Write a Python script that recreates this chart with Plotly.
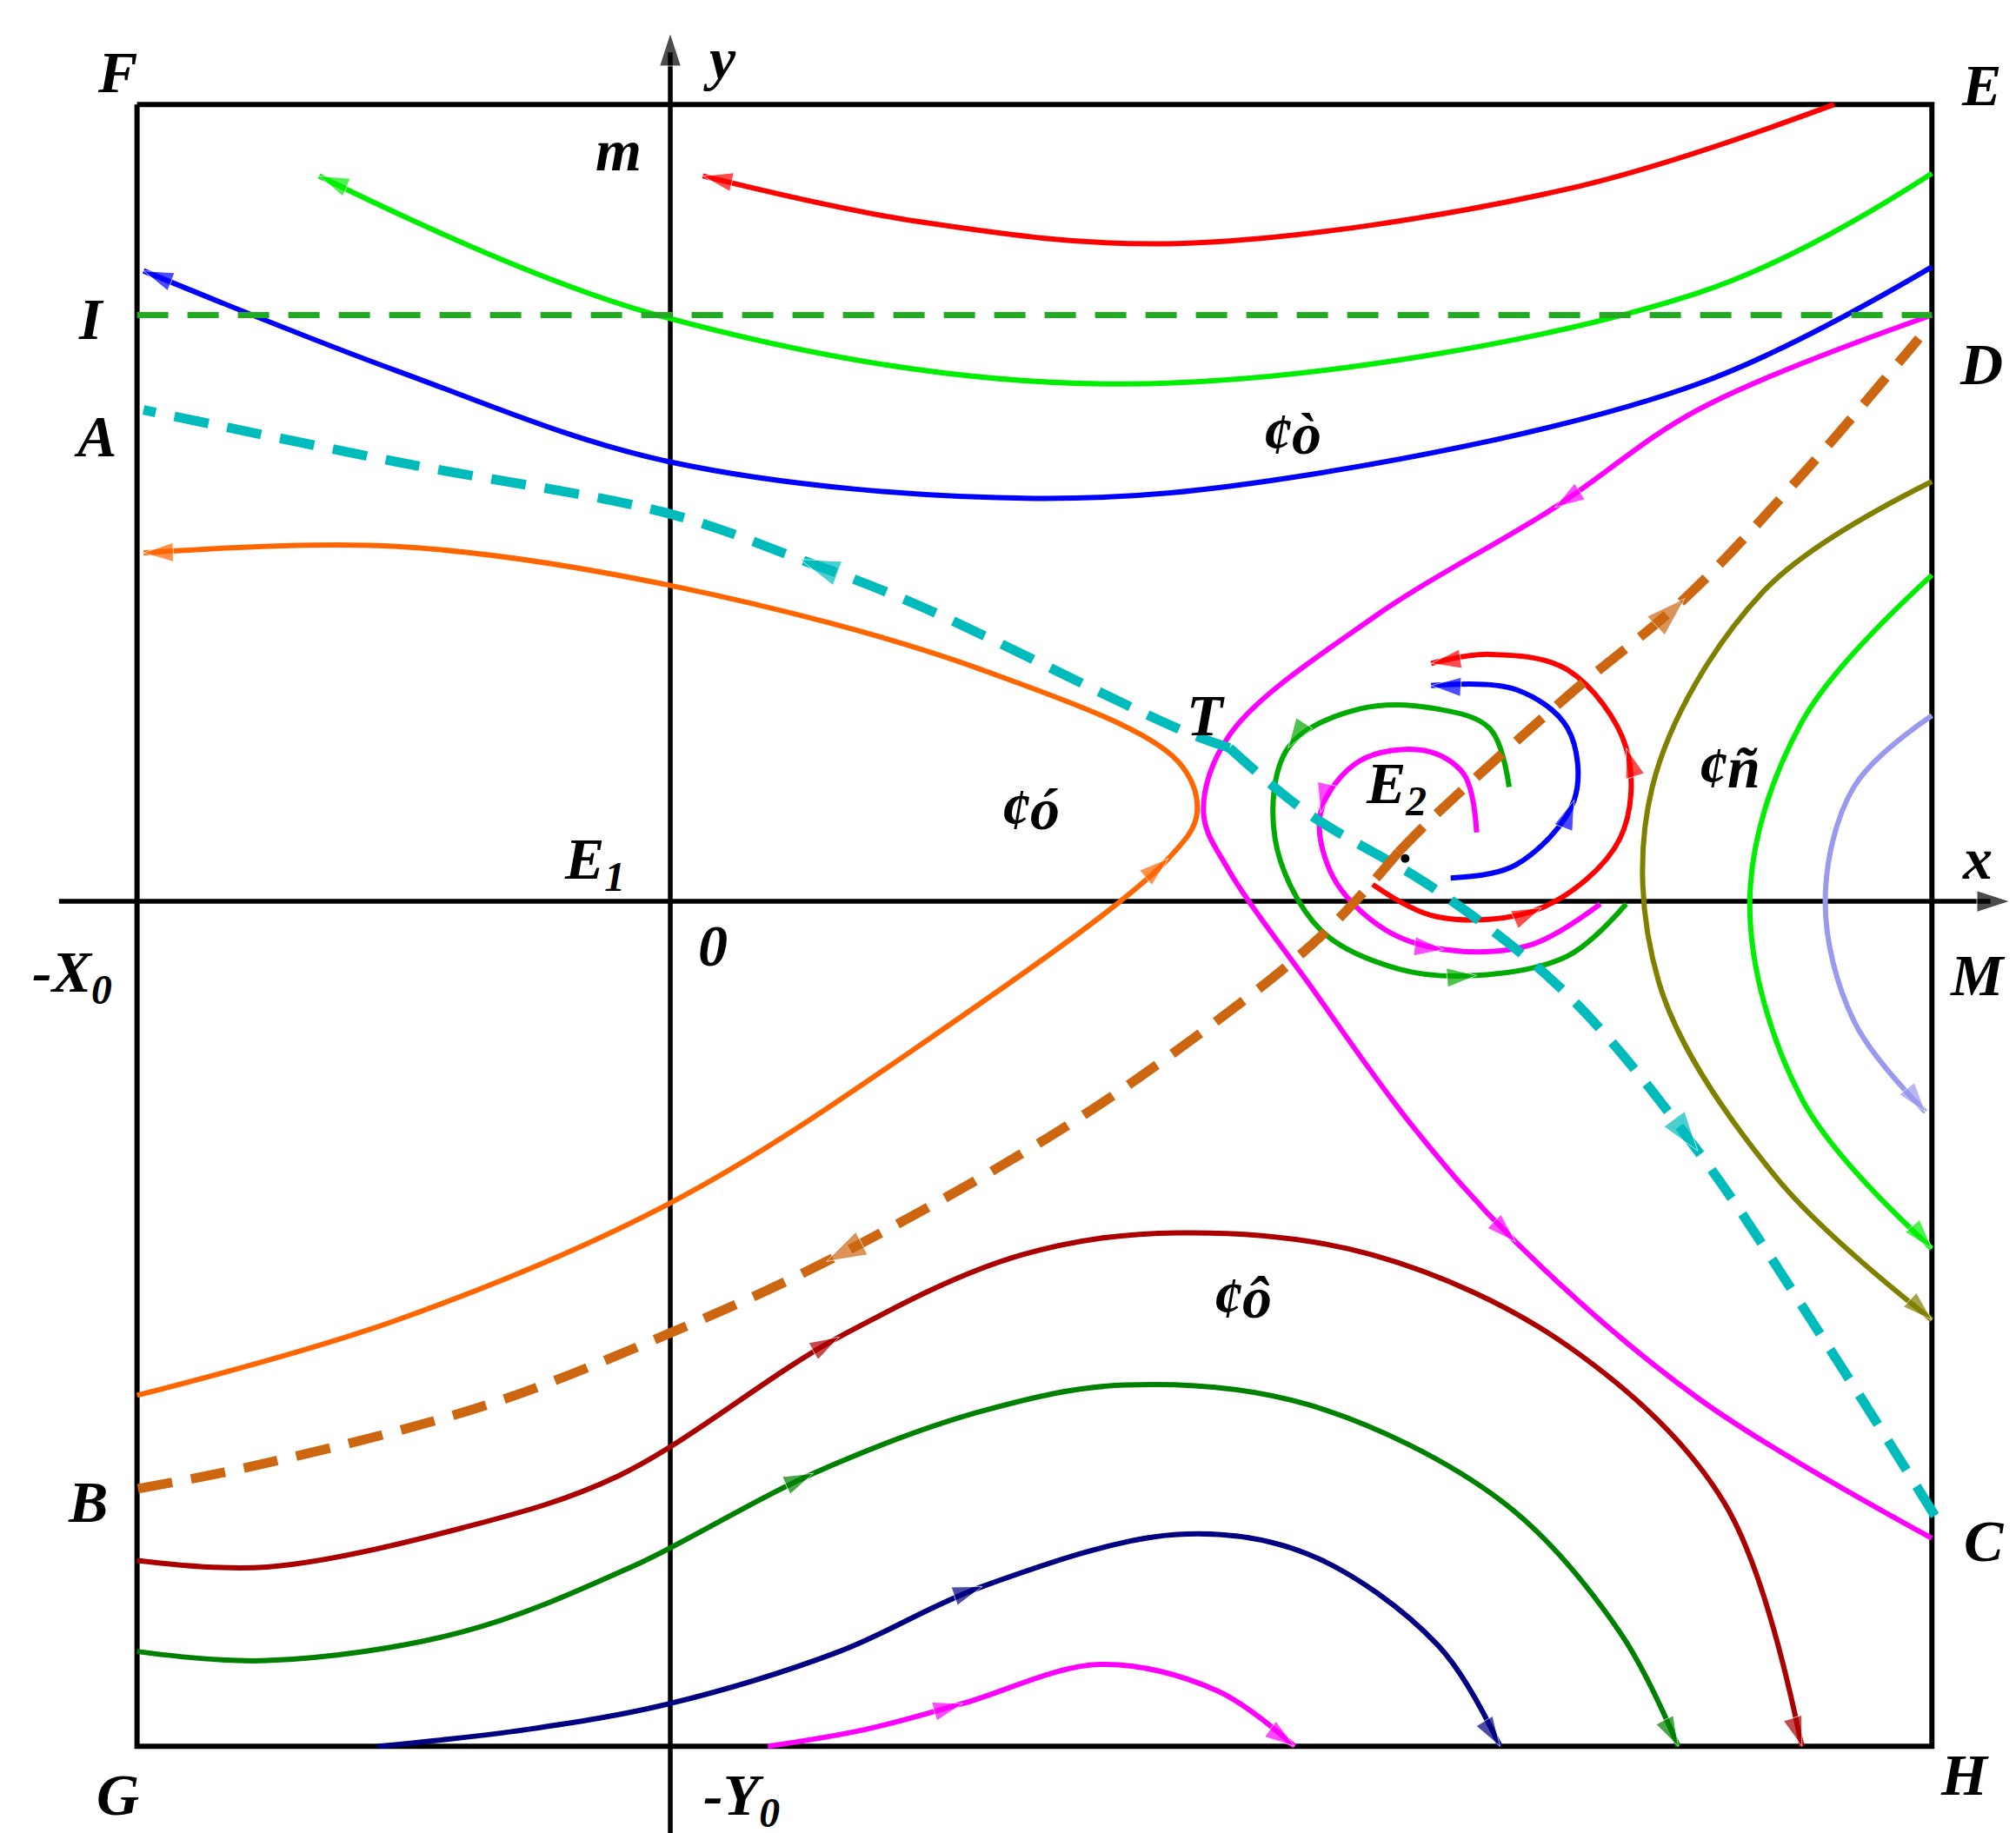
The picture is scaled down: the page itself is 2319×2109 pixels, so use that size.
import plotly.graph_objects as go

# curves in picture units (x right, y down), arrow = index of point carrying an arrowhead
box_x = [100, 1480, 1480, 100, 100]
box_y = [75, 75, 1338, 1338, 75]

curves = [
    # (x, y, colour, width, dash, arrow indices)
    ([1405, 1200, 900, 700, 535], [75, 140, 182, 165, 130], 'red', 6, 'solid', [4]),
    ([1480, 1300, 860, 500, 240], [128, 220, 290, 237, 130], '#00ee00', 6, 'solid', [4]),
    ([1480, 1300, 1000, 790, 510, 300, 105], [200, 290, 360, 378, 350, 280, 203], 'blue', 6, 'solid', [6]),
    ([100, 300, 510, 700, 893, 915, 900, 750, 510, 300, 105],
     [1068, 1010, 920, 800, 655, 620, 580, 510, 445, 415, 420], '#ff6600', 6, 'solid', [4, 10]),
    ([1480, 1300, 1190, 1050, 940, 920, 940, 1000, 1080, 1160, 1300, 1480],
     [237, 310, 385, 470, 560, 620, 665, 750, 860, 950, 1070, 1178], 'magenta', 6, 'solid', [2, 9]),
    ([1480, 1350, 1265, 1270, 1360, 1480], [365, 450, 600, 750, 900, 1010], '#808000', 6, 'solid', [5]),
    ([1480, 1380, 1340, 1380, 1480], [437, 550, 688, 840, 955], '#00ee00', 6, 'solid', [4]),
    ([1480, 1420, 1398, 1420, 1475], [545, 600, 688, 780, 850], '#9999ee', 6, 'solid', [4]),
    ([100, 200, 350, 470, 640, 780, 900, 1050, 1200, 1320, 1380],
     [1195, 1200, 1170, 1130, 1023, 960, 943, 960, 1030, 1150, 1338], '#aa0000', 6, 'solid', [4, 10]),
    ([100, 200, 350, 480, 620, 750, 860, 1000, 1150, 1240, 1285],
     [1265, 1272, 1250, 1200, 1128, 1080, 1060, 1075, 1150, 1250, 1338], '#008000', 6, 'solid', [4, 10]),
    ([285, 400, 510, 640, 750, 900, 1000, 1100, 1148],
     [1338, 1325, 1305, 1265, 1215, 1175, 1190, 1260, 1338], '#000080', 6, 'solid', [4, 8]),
    ([585, 660, 735, 840, 930, 990], [1338, 1325, 1305, 1275, 1295, 1338], 'magenta', 6, 'solid', [2, 5]),
    # spirals round E2
    ([1050, 1100, 1180, 1240, 1245, 1200, 1140, 1095], [675, 700, 693, 640, 570, 510, 498, 505], 'red', 6, 'solid', [2, 4, 7]),
    ([1110, 1160, 1205, 1200, 1160, 1095], [670, 660, 610, 555, 525, 522], 'blue', 6, 'solid', [2, 5]),
    ([1155, 1140, 1100, 1040, 985, 975, 1010, 1070, 1130, 1200, 1245],
     [600, 555, 540, 540, 570, 640, 710, 740, 745, 730, 690], '#00aa00', 6, 'solid', [4, 8]),
    ([1130, 1120, 1090, 1040, 1010, 1020, 1060, 1105, 1170, 1225],
     [635, 590, 572, 580, 620, 670, 710, 725, 722, 690], 'magenta', 6, 'solid', [4, 7]),
    # separatrices (dashed)
    ([940, 900, 700, 610, 510, 300, 105], [570, 555, 460, 425, 390, 350, 310], '#00bbbb', 11, '40px,22px', [3]),
    ([940, 1000, 1100, 1200, 1300, 1400, 1485], [570, 620, 680, 760, 880, 1030, 1165], '#00bbbb', 11, '40px,22px', [4]),
    ([1070, 1010, 910, 800, 630, 510, 370, 200, 100], [650, 715, 795, 870, 965, 1020, 1075, 1120, 1140], '#cc6611', 11, '40px,22px', [4]),
    ([1070, 1100, 1200, 1290, 1380, 1470], [650, 620, 530, 455, 360, 255], '#cc6611', 11, '40px,22px', [3]),
    ([100, 1480], [237, 237], '#22aa22', 7, '36px,22px', []),
]

labels = ['F', 'E', 'I', 'D', 'A', 'T', '¢ò', '¢ó', '¢ñ', '¢ô', 'E<sub>2</sub>', 'E<sub>1</sub>', '0',
          '-X<sub>0</sub>', 'M', 'x', 'y', 'm', 'B', 'C', 'G', 'H', '-Y<sub>0</sub>']
label_x = [85, 1518, 65, 1518, 68, 922, 988, 787, 1324, 950, 1068, 452, 543, 50, 1515, 1515, 548, 470, 62, 1520, 85, 1505, 565]
label_y = [50, 60, 240, 275, 330, 545, 328, 617, 585, 993, 600, 658, 722, 745, 745, 655, 40, 110, 1150, 1180, 1375, 1360, 1378]

fig = go.Figure()
fig.add_trace(go.Scatter(x=box_x, y=box_y, mode='lines', line=dict(color='black', width=6)))
fig.add_trace(go.Scatter(x=[40, 1525], y=[688, 688], mode='lines', line=dict(color='black', width=5.5)))
fig.add_trace(go.Scatter(x=[510, 510], y=[1415, 35], mode='lines', line=dict(color='black', width=5.5)))
fig.add_trace(go.Scatter(x=[1520, 1540], y=[688, 688], mode='markers',
                         marker=dict(symbol='arrow', angleref='previous', size=[0, 40], color='black')))
fig.add_trace(go.Scatter(x=[510, 510], y=[40, 20], mode='markers',
                         marker=dict(symbol='arrow', angleref='previous', size=[0, 40], color='black')))

for cx, cy, col, w, dash, arrows in curves:
    fig.add_trace(go.Scatter(x=cx, y=cy, mode='lines', line=dict(color=col, width=w, dash=dash, shape='spline')))
    for i in arrows:
        j0 = max(i - 1, 0)
        j1 = min(i + 1, len(cx) - 1)
        dx, dy = cx[j1] - cx[j0], cy[j1] - cy[j0]
        n = (dx * dx + dy * dy) ** 0.5
        fig.add_trace(go.Scatter(x=[cx[i] - dx / n, cx[i]], y=[cy[i] - dy / n, cy[i]], mode='markers',
                                 marker=dict(symbol='arrow', angleref='previous', size=[0, 48 if w > 8 else 36], color=col)))

fig.add_trace(go.Scatter(x=[1075], y=[655], mode='markers', marker=dict(color='black', size=10)))

for t, lx, ly in zip(labels, label_x, label_y):
    fig.add_annotation(x=lx, y=ly, text='<b><i>' + t + '</i></b>', showarrow=False,
                       font=dict(family='Liberation Serif', size=68, color='black'))

fig.update_layout(width=2319, height=2109, margin=dict(l=0, r=0, t=0, b=0), showlegend=False,
                  plot_bgcolor='white', paper_bgcolor='white')
fig.update_xaxes(range=[0, 1550], visible=False)
fig.update_yaxes(range=[1410, 0], visible=False)
fig.write_html("out.html")
